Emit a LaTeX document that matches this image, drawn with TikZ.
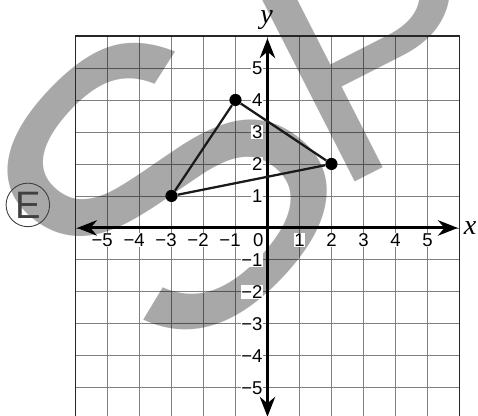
\documentclass[tikz,border=0pt]{standalone}
\usepackage{fontspec}
\setmainfont{Liberation Sans}
\newfontfamily\varfont{Liberation Serif}
\usetikzlibrary{arrows.meta}
\definecolor{markgray}{gray}{0.66}

\begin{document}
\begin{tikzpicture}[
  gridline/.style={line width=0.8pt, black, opacity=0.5},
  frameline/.style={line width=1.3pt, black!85},
  axisline/.style={{Stealth[length=6.2mm, width=4.8mm, inset=2mm]}-{Stealth[length=6.2mm, width=4.8mm, inset=2mm]}, line width=2.6pt},
  edge/.style={line width=2pt, black!90},
  vertex/.style={circle, fill=black, inner sep=0pt, minimum size=3.8mm},
  tick/.style={fill=white, inner sep=0.6pt, font=\fontsize{16.5}{18}\selectfont},
  varlabel/.style={font=\varfont\itshape\fontsize{25}{28}\selectfont},
  wmark/.style={text=markgray, inner sep=0pt},
  choice/.style={circle, draw=black!75, line width=0.8pt, minimum size=13.6mm, inner sep=0pt, text=black!75, font=\fontsize{34}{36}\selectfont}
]
\useasboundingbox (-8.36,-5.875) rectangle (6.58,7.125);
\clip (-8.36,-5.875) rectangle (6.58,7.125);

% --- Watermark ---
\node[wmark, font=\fontsize{356}{356}\selectfont] (wmS) at (-3.2,1.31) {\scalebox{1.1}[1]{\rotatebox{50}{S}}};
\node[wmark, rotate=27, anchor=base west, font=\fontsize{300}{300}\selectfont] (wmP) at (1.97,1.03) {P};

% --- Grid and frame ---
\draw[gridline] (-6,-6) grid (6,6);
\draw[frameline] (-6,-6) rectangle (6,6);

% --- Axes ---
\coordinate (xl) at (-5.95,0);
\coordinate (xr) at (5.95,0);
\coordinate (yb) at (0,-5.9);
\coordinate (yt) at (0,5.93);
\draw[axisline] (xl) -- (xr);
\draw[axisline] (yb) -- (yt);
\node[varlabel, anchor=base] (xname) at (6.33,-0.22) {x};
\node[varlabel, anchor=base] (yname) at (-0.03,6.375) {y};

% --- Tick labels ---
\foreach \n in {1,...,5} {
  \node[tick] (xm\n) at (-\n,-0.375) {\llap{−}\n};
  \node[tick] (xp\n) at (\n,-0.375) {\n};
  \node[tick, anchor=east] (ym\n) at (-0.13,-\n) {−\n};
  \node[tick, anchor=east] (yp\n) at (-0.13,\n) {\n};
}
\node[tick, anchor=east] (zero) at (-0.1,-0.375) {0};

% --- Triangle ---
\node[vertex] (P) at (-3,1) {};
\node[vertex] (Q) at (-1,4) {};
\node[vertex] (R) at (2,2) {};
\draw[edge] (P) -- (Q) -- (R) -- (P);

% --- Answer choice ---
\node[choice] (optE) at (-7.49,0.72) {E};

\end{tikzpicture}
\end{document}
